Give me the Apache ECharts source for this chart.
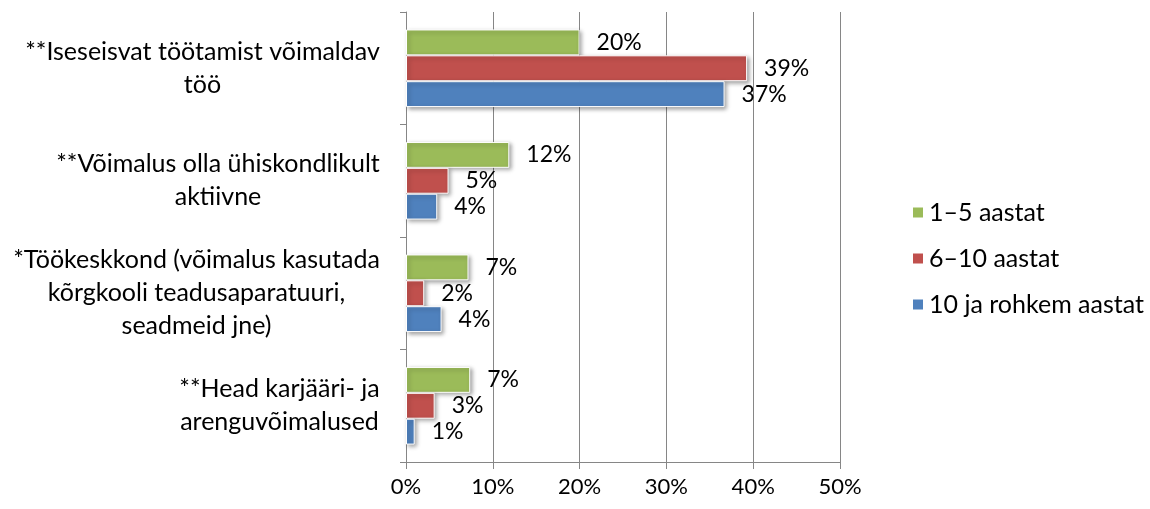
<!DOCTYPE html>
<html>
<head>
<meta charset="utf-8">
<script src="https://cdn.jsdelivr.net/npm/echarts@6/dist/echarts.min.js"></script>
<style>
  html, body { margin: 0; padding: 0; background: #fff; }
  #chart { width: 1150px; height: 509px; }
</style>
</head>
<body>
<div id="chart"></div>
<script>
var categories = [
    '**Iseseisvat töötamist võimaldav\ntöö',
    '**Võimalus olla ühiskondlikult\naktiivne',
    '*Töökeskkond (võimalus kasutada\nkõrgkooli teadusaparatuuri,\nseadmeid jne)',
    '**Head karjääri- ja\narenguvõimalused'
];
var seriesNames = ['1–5 aastat', '6–10 aastat', '10 ja rohkem aastat'];
var years1to5 = [20.0, 11.9, 7.2, 7.4];
var years6to10 = [39.3, 4.9, 2.1, 3.3];
var years10plus = [36.7, 3.6, 4.1, 1.0];
var xTicks = [0, 10, 20, 30, 40, 50];

var FONT = 'Lato';
var CAT_FS = 25;
var colors = ['#9BBB59', '#C0504D', '#4F81BD'];

// category labels: lines centred inside a right-aligned block
var ctx = document.createElement('canvas').getContext('2d');
ctx.font = CAT_FS + 'px ' + FONT;
var rich = {};
categories.forEach(function (c, i) {
    var w = 0;
    c.split('\n').forEach(function (l) { w = Math.max(w, ctx.measureText(l).width); });
    rich['c' + i] = { width: Math.ceil(w) + 2, align: 'center', fontFamily: FONT, fontSize: CAT_FS, color: '#000', lineHeight: 33 };
});

var barStyle = function (col) {
    return {
        color: col,
        borderColor: '#fff',
        borderWidth: 1,
        shadowBlur: 4,
        shadowColor: 'rgba(0,0,0,0.35)',
        shadowOffsetX: 2,
        shadowOffsetY: 2
    };
};

var dataSets = [years1to5, years6to10, years10plus];
var series = dataSets.map(function (d, i) {
    return {
        name: seriesNames[i],
        type: 'bar',
        data: d,
        barGap: '0%',
        barCategoryGap: '31%',
        itemStyle: barStyle(colors[i]),
        label: {
            show: true,
            position: 'right',
            distance: 17,
            color: '#000',
            fontFamily: FONT,
            fontSize: 23,
            formatter: function (p) { return Math.round(p.value) + '%'; }
        }
    };
});

var chart = echarts.init(document.getElementById('chart'));
chart.setOption({
    animation: false,
    backgroundColor: '#fff',
    color: colors,
    textStyle: { fontFamily: FONT },
    grid: { left: 406, right: 310, top: 12, bottom: 47 },
    legend: {
        orient: 'vertical',
        left: 906,
        top: 195,
        itemWidth: 12,
        itemHeight: 12,
        itemGap: 21,
        icon: 'rect',
        textStyle: { fontFamily: FONT, fontSize: 25, color: '#000' },
        data: seriesNames
    },
    xAxis: {
        type: 'value',
        min: xTicks[0],
        max: xTicks[xTicks.length - 1],
        interval: 10,
        axisLine: { show: true, lineStyle: { color: '#868686' } },
        axisTick: { show: true, length: 7, lineStyle: { color: '#868686' } },
        splitLine: { show: true, lineStyle: { color: '#868686' } },
        axisLabel: { margin: 14, color: '#000', fontFamily: FONT, fontSize: 22, formatter: '{value}%' }
    },
    yAxis: {
        type: 'category',
        inverse: true,
        data: categories,
        axisLine: { lineStyle: { color: '#868686' } },
        axisTick: { show: true, length: 6, lineStyle: { color: '#868686' } },
        axisLabel: {
            margin: 25,
            align: 'right',
            formatter: function (v, i) {
                return v.split('\n').map(function (l) { return '{c' + i + '|' + l + '}'; }).join('\n');
            },
            rich: rich
        }
    },
    series: series
});
</script>
</body>
</html>
